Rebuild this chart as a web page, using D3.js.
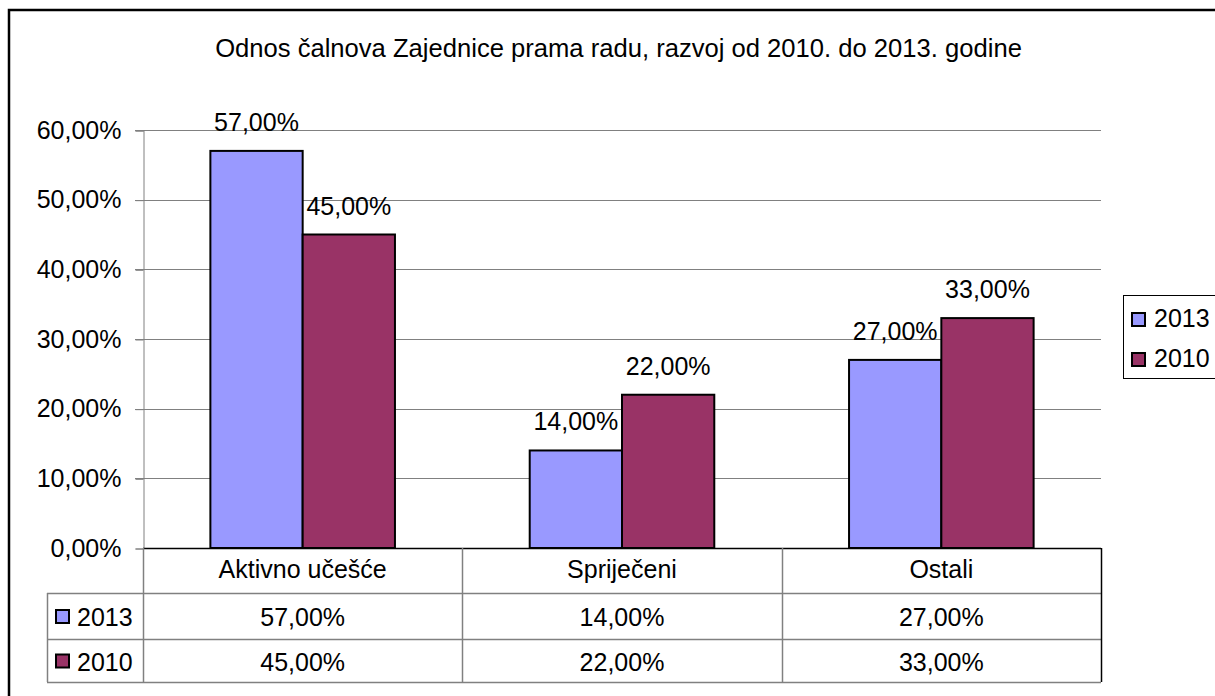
<!DOCTYPE html>
<html>
<head>
<meta charset="utf-8">
<script src="https://cdn.jsdelivr.net/npm/d3@7"></script>
<style>
  html, body { margin: 0; padding: 0; background: #fff; }
  svg { display: block; font-family: "Liberation Sans", Arial, sans-serif; }
</style>
</head>
<body>
<svg id="chart" width="1215" height="696"></svg>
<script>
const title = "Odnos čalnova Zajednice prama radu, razvoj od 2010. do 2013. godine";
const categories = ["Aktivno učešće", "Spriječeni", "Ostali"];
const seriesNames = ["2013", "2010"];
const values2013 = [0.57, 0.14, 0.27];
const values2010 = [0.45, 0.22, 0.33];
const yTicks = [0, 0.1, 0.2, 0.3, 0.4, 0.5, 0.6];
const seriesColors = ["#9999FF", "#993366"];

const seriesValues = [values2013, values2010];
const svg = d3.select("#chart");
const fs = 25;

const locale = d3.formatLocale({decimal: ",", thousands: ".", grouping: [3], currency: ["", ""]});
const fmt = locale.format(".2%");

// layout
const plotL = 143, plotR = 1101, plotT = 130, plotB = 548;
const rowH = [45, 46, 43];           // category row, 2013 row, 2010 row
const tableL = 47;

// frame
svg.append("rect").attr("x", 9).attr("y", 10).attr("width", 1300).attr("height", 800)
  .attr("fill", "#fff").attr("stroke", "#000").attr("stroke-width", 2.5);

// title
svg.append("text").attr("x", 618.5).attr("y", 57).attr("text-anchor", "middle")
  .attr("font-size", 25.6).attr("fill", "#000").text(title);

const y = d3.scaleLinear().domain([0, 0.6]).range([plotB, plotT]);
const x0 = d3.scaleBand().domain(categories).range([plotL, plotR]).paddingInner(0).paddingOuter(0);
const x1 = d3.scaleBand().domain(seriesNames).range([x0.bandwidth() * 0.211, x0.bandwidth() * 0.789]).padding(0);

// gridlines
svg.append("g").selectAll("line").data(yTicks.filter(d => d > 0)).join("line")
  .attr("x1", plotL - 8).attr("x2", plotR)
  .attr("y1", d => Math.round(y(d)) + 0.5).attr("y2", d => Math.round(y(d)) + 0.5)
  .attr("stroke", "#808080").attr("stroke-width", 1);

// y axis
const yAxis = d3.axisLeft(y).tickValues(yTicks).tickFormat(fmt).tickSize(8).tickPadding(14);
const gy = svg.append("g").attr("transform", `translate(${plotL + 0.5},0.5)`).call(yAxis);
gy.select(".domain").attr("stroke", "#808080");
gy.selectAll(".tick line").attr("stroke", "#808080");
gy.selectAll(".tick text").attr("font-size", fs).attr("fill", "#000")
  .attr("font-family", "Liberation Sans, Arial, sans-serif").attr("dy", "0.3em");

// bars
const groups = svg.append("g").selectAll("g").data(categories).join("g")
  .attr("transform", d => `translate(${x0(d)},0)`);
groups.selectAll("rect").data((c, i) => seriesNames.map((s, j) => ({s, v: seriesValues[j][i], j})))
  .join("rect")
  .attr("x", d => x1(d.s)).attr("width", x1.bandwidth())
  .attr("y", d => y(d.v)).attr("height", d => y(0) - y(d.v))
  .attr("fill", d => seriesColors[d.j]).attr("stroke", "#000").attr("stroke-width", 2);
groups.selectAll("text").data((c, i) => seriesNames.map((s, j) => ({s, v: seriesValues[j][i], j})))
  .join("text")
  .attr("x", d => x1(d.s) + x1.bandwidth() / 2).attr("y", d => y(d.v) - 20)
  .attr("text-anchor", "middle").attr("font-size", fs).attr("fill", "#000")
  .text(d => fmt(d.v));

// data table
const rowTops = [plotB, plotB + rowH[0], plotB + rowH[0] + rowH[1]];
const tableB = plotB + rowH[0] + rowH[1] + rowH[2];
const tg = svg.append("g");
tg.append("line").attr("x1", plotL).attr("x2", plotR).attr("y1", plotB + 0.5).attr("y2", plotB + 0.5)
  .attr("stroke", "#000").attr("stroke-width", 1.5);
[rowTops[1], rowTops[2], tableB].forEach(yy => {
  tg.append("line").attr("x1", tableL).attr("x2", plotR).attr("y1", yy + 0.5).attr("y2", yy + 0.5)
    .attr("stroke", "#808080").attr("stroke-width", 1.5);
});
tg.append("line").attr("x1", tableL + 0.5).attr("x2", tableL + 0.5).attr("y1", rowTops[1]).attr("y2", tableB)
  .attr("stroke", "#808080").attr("stroke-width", 1.5);
categories.forEach((c, i) => {
  const xx = Math.round(x0(c)) + 0.5;
  tg.append("line").attr("x1", xx).attr("x2", xx).attr("y1", plotB).attr("y2", tableB)
    .attr("stroke", "#808080").attr("stroke-width", 1.5);
});
tg.append("line").attr("x1", plotR + 0.5).attr("x2", plotR + 0.5).attr("y1", plotB).attr("y2", tableB)
  .attr("stroke", "#000").attr("stroke-width", 1.5);

// category labels
tg.selectAll("text.cat").data(categories).join("text").attr("class", "cat")
  .attr("x", d => x0(d) + x0.bandwidth() / 2).attr("y", plotB + 30)
  .attr("text-anchor", "middle").attr("font-size", fs).attr("fill", "#000").text(d => d);

// series rows
seriesNames.forEach((s, j) => {
  const top = rowTops[j + 1];
  const h = rowH[j + 1];
  tg.append("rect").attr("x", 56).attr("y", top + h / 2 - 6).attr("width", 13).attr("height", 13)
    .attr("fill", seriesColors[j]).attr("stroke", "#000").attr("stroke-width", 2);
  tg.append("text").attr("x", 77).attr("y", top + h / 2 + 10).attr("font-size", fs).attr("fill", "#000").text(s);
  categories.forEach((c, i) => {
    tg.append("text").attr("x", x0(c) + x0.bandwidth() / 2).attr("y", top + h / 2 + 10)
      .attr("text-anchor", "middle").attr("font-size", fs).attr("fill", "#000")
      .text(fmt(seriesValues[j][i]));
  });
});

// legend
const lg = svg.append("g");
lg.append("rect").attr("x", 1123.5).attr("y", 295.5).attr("width", 200).attr("height", 83)
  .attr("fill", "#fff").attr("stroke", "#000").attr("stroke-width", 1);
seriesNames.forEach((s, j) => {
  const cy = 319 + j * 40;
  lg.append("rect").attr("x", 1132).attr("y", cy - 6).attr("width", 13).attr("height", 13)
    .attr("fill", seriesColors[j]).attr("stroke", "#000").attr("stroke-width", 2);
  lg.append("text").attr("x", 1154).attr("y", cy + 8).attr("font-size", fs).attr("fill", "#000").text(s);
});
</script>
</body>
</html>
